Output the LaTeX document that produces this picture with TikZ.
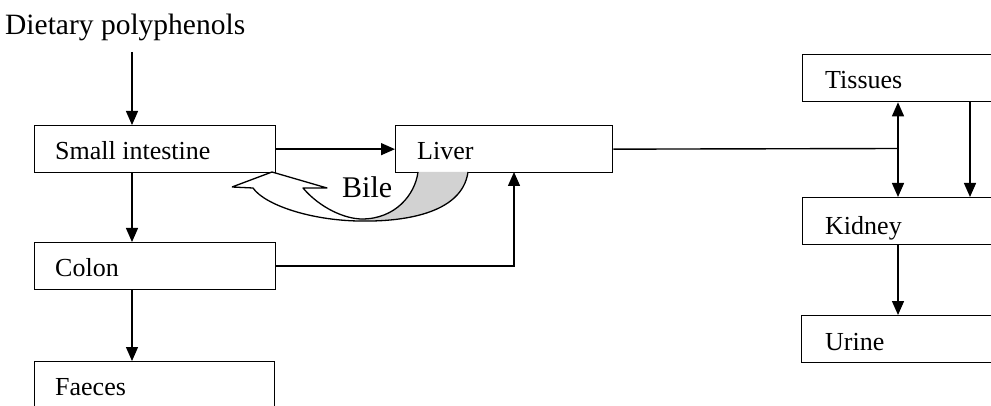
\documentclass[tikz,border=0pt]{standalone}
\usepackage{fontspec}
\setmainfont{Liberation Serif}
\usetikzlibrary{arrows.meta}
\begin{document}
\begin{tikzpicture}[x=1pt,y=-1pt,
  bx/.style={draw, line width=1.3pt, anchor=north west, minimum height=47pt,
    inner sep=0pt},
  bt/.style={anchor=base west, inner sep=0pt, font=\fontsize{26}{31}\selectfont},
  ln/.style={line width=1.4pt},
  arr/.style={line width=1.4pt, -{Triangle[length=14pt,width=12pt]}},
  arrb/.style={line width=1.4pt, {Triangle[length=14pt,width=12pt]}-{Triangle[length=14pt,width=12pt]}}]
\useasboundingbox (0,0) rectangle (991,406);
\clip (0,0) rectangle (991,406);

% title
\node[anchor=base west, inner sep=0pt, font=\fontsize{29.5}{34}\selectfont] (dp) at (5,35) {Dietary polyphenols};

% boxes
\node[bx, minimum width=241pt] (si) at (34,125) {};
\node[bx, minimum width=217pt] (liver) at (395,125) {};
\node[bx, minimum width=241pt] (colon) at (34,242) {};
\node[bx, minimum width=240pt] (faeces) at (34,361) {};
\node[bx, minimum width=243pt] (tissues) at (802,54) {};
\node[bx, minimum width=243pt] (kidney) at (802,197) {};
\node[bx, minimum width=244pt] (urine) at (801,315) {};

% box texts
\node[bt] (sit) at ([xshift=21pt,yshift=-10.5pt]si.west) {Small intestine};
\node[bt] (livert) at ([xshift=22pt,yshift=-10.5pt]liver.west) {Liver};
\node[bt] (colont) at ([xshift=21pt,yshift=-10.5pt]colon.west) {Colon};
\node[bt] (faecest) at ([xshift=21pt,yshift=-10.5pt]faeces.west) {Faeces};
\node[bt] (tissuest) at ([xshift=23pt,yshift=-10.5pt]tissues.west) {Tissues};
\node[bt] (kidneyt) at ([xshift=23pt,yshift=-13pt]kidney.west) {Kidney};
\node[bt] (urinet) at ([xshift=24pt,yshift=-11pt]urine.west) {Urine};

% helper coordinates
\coordinate (c1) at (132,52);
\coordinate (cl) at (514,172);
\coordinate (jn) at (898,148.5);
\coordinate (rt) at (970,0);

% left column arrows
\draw[arr] (c1) -- (c1 |- si.north);
\draw[arr] (si.south -| c1) -- (colon.north -| c1);
\draw[arr] (colon.south -| c1) -- (faeces.north -| c1);

% to liver
\draw[arr] (si.east) -- (liver.west);
\draw[arr] (colon.east) -| (cl);

% liver to right side
\draw[ln] (liver.east) -- (jn);
\draw[arrb] (tissues.south -| jn) -- (kidney.north -| jn);
\draw[arr] (tissues.south -| rt) -- (kidney.north -| rt);
\draw[arr] (kidney.south -| jn) -- (urine.north -| jn);

% Bile curved arrow
\fill[gray!35] (362,219) .. controls (395,219) and (415,195) .. (418,172)
  -- (468,172) .. controls (462,215) and (400,222) .. (358,221) -- cycle;
\draw[line width=1.3pt, line join=round]
  (232,187) -- (272,172) -- (327,188) -- (303,188)
  .. controls (320,208) and (345,219) .. (362,219)
  .. controls (395,219) and (415,195) .. (418,172)
  (468,172) .. controls (462,215) and (400,222) .. (358,221)
  .. controls (310,220) and (265,205) .. (253,188) -- (232,187);
\node[anchor=base west, inner sep=0pt, font=\fontsize{30}{36}\selectfont] (bile) at (342,198) {Bile};
\end{tikzpicture}
\end{document}
